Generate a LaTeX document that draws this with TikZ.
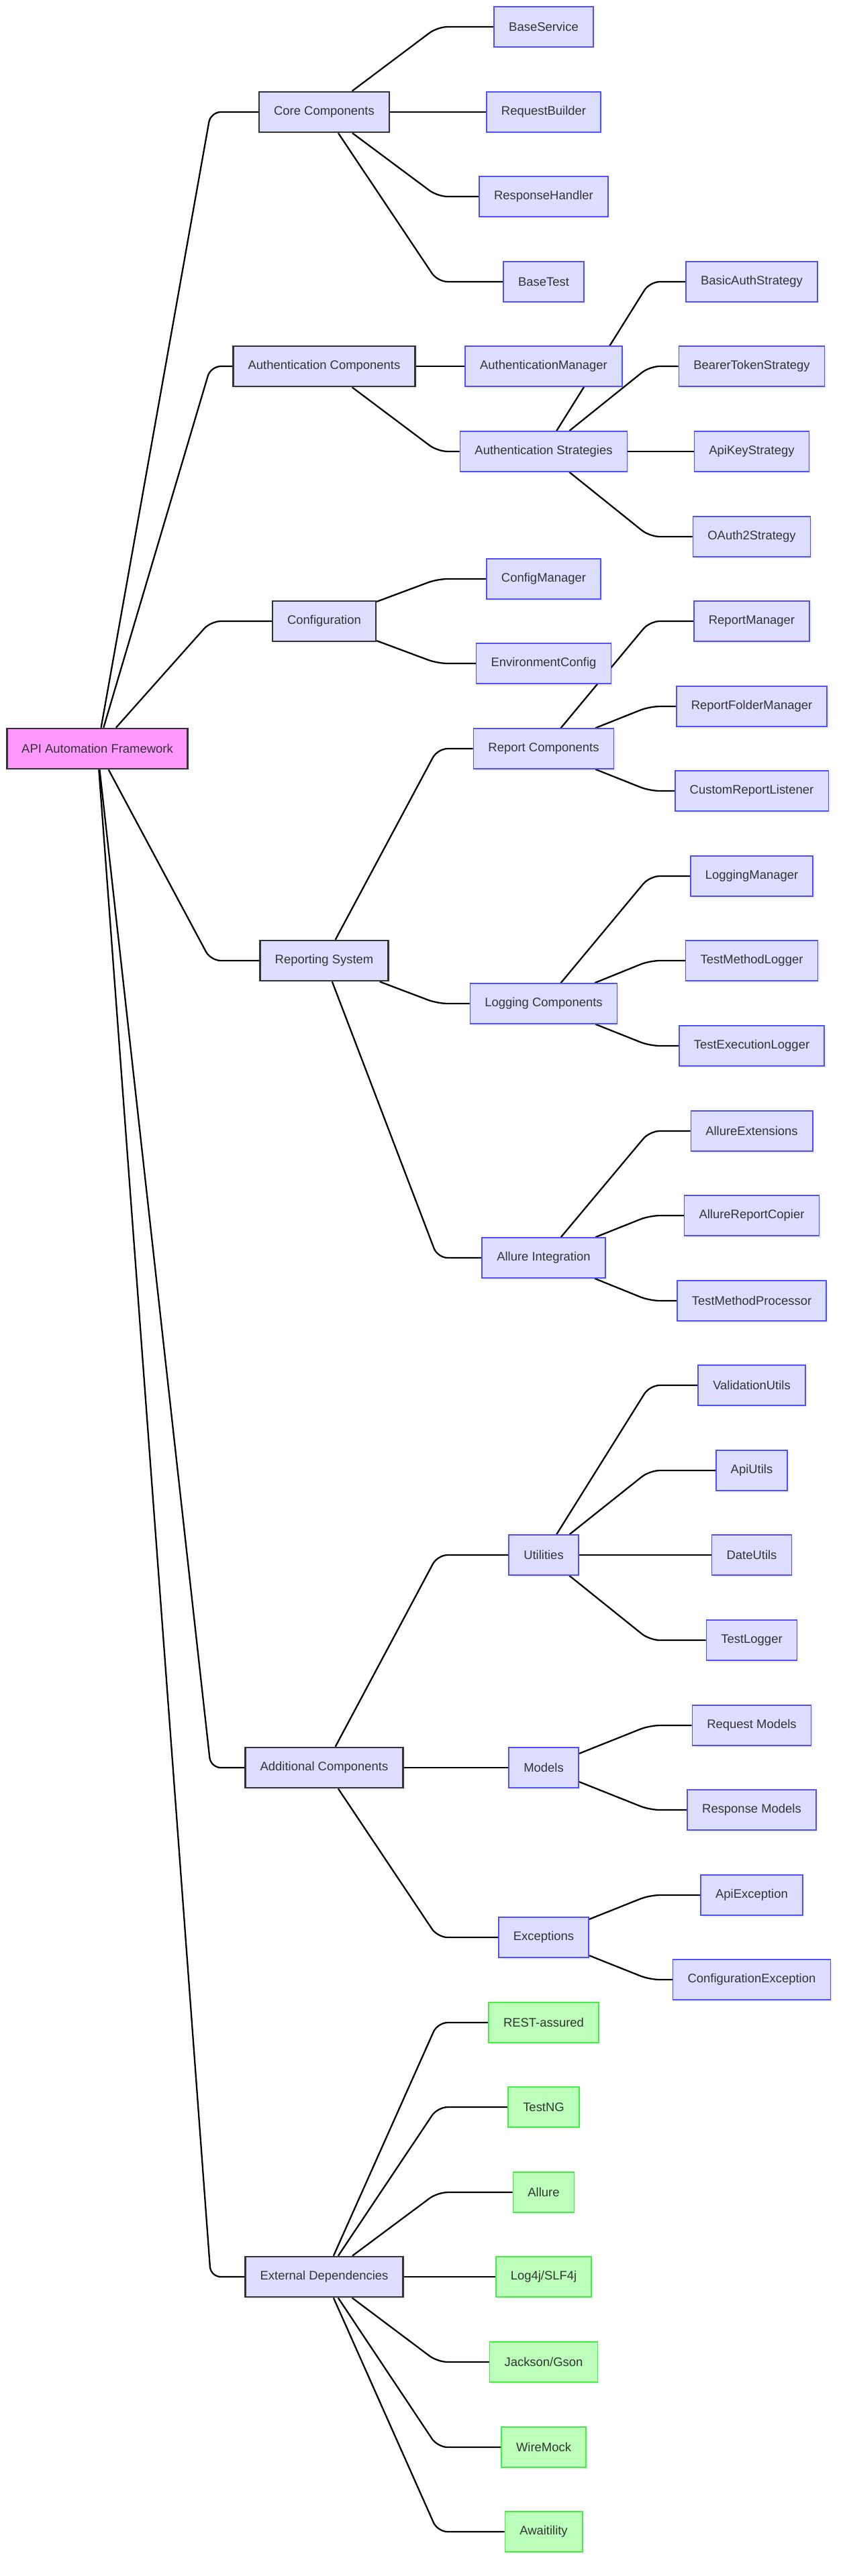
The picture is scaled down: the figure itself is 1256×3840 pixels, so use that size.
\documentclass[tikz,border=0pt]{standalone}
\usepackage{fontspec}
\setmainfont{Liberation Sans}
\usepackage{tikz}
\usetikzlibrary{backgrounds,shadows}

\definecolor{lavfill}{HTML}{DDDDFF}
\definecolor{lavline}{HTML}{5050FF}
\definecolor{grnfill}{HTML}{BBFFBB}
\definecolor{grnline}{HTML}{44EE44}
\definecolor{pinkfill}{HTML}{FF99FF}
\definecolor{darkline}{HTML}{333333}

\tikzset{
  box/.style={rectangle, minimum height=1.2cm, inner xsep=0.44cm, inner ysep=0pt,
    font=\fontsize{10.5pt}{12pt}\selectfont, text=darkline,
    drop shadow={shadow xshift=0.05cm, shadow yshift=-0.05cm, opacity=0.12}},
  leaf/.style={box, fill=lavfill, draw=lavline, line width=0.9pt},
  lib/.style={box, fill=grnfill, draw=grnline, line width=0.9pt},
  group/.style={box, fill=lavfill, draw=darkline, line width=1.5pt},
  rootbox/.style={box, fill=pinkfill, draw=darkline, line width=1.5pt},
  link/.style={black, line width=1.3pt, rounded corners=0.3cm}
}

\begin{document}
\begin{tikzpicture}[x=0.02cm,y=-0.02cm]
\useasboundingbox (0,0) rectangle (1256,3840);

% turning points between the columns
\coordinate (r1) at (314,0);
\coordinate (r2) at (652,0);
\coordinate (r3) at (968,0);

% root and main groups
\node[rootbox] (root) at (145,1116) {API Automation Framework};
\node[group] (core) at (483,167) {Core Components};
\node[group] (auth) at (483,546) {Authentication Components};
\node[group] (config) at (483,926) {Configuration};
\node[group] (report) at (483,1432) {Reporting System};
\node[group] (addl) at (483,2635) {Additional Components};
\node[group] (extdep) at (483,3394) {External Dependencies};

% second column
\node[leaf] (bsvc) at (810,40) {BaseService};
\node[leaf] (reqb) at (810,167) {RequestBuilder};
\node[leaf] (resph) at (810,293) {ResponseHandler};
\node[leaf] (btest) at (810,420) {BaseTest};
\node[leaf] (authmgr) at (810,546) {AuthenticationManager};
\node[leaf] (authstr) at (810,673) {Authentication Strategies};
\node[leaf] (cfgmgr) at (810,863) {ConfigManager};
\node[leaf] (envcfg) at (810,989) {EnvironmentConfig};
\node[leaf] (repcomp) at (810,1116) {Report Components};
\node[leaf] (logcomp) at (810,1496) {Logging Components};
\node[leaf] (allint) at (810,1875) {Allure Integration};
\node[leaf] (utils) at (810,2318) {Utilities};
\node[leaf] (models) at (810,2635) {Models};
\node[leaf] (excep) at (810,2888) {Exceptions};
\node[lib] (rest) at (810,3015) {REST-assured};
\node[lib] (testng) at (810,3141) {TestNG};
\node[lib] (allure) at (810,3268) {Allure};
\node[lib] (log4j) at (810,3394) {Log4j/SLF4j};
\node[lib] (jackson) at (810,3521) {Jackson/Gson};
\node[lib] (wiremock) at (810,3648) {WireMock};
\node[lib] (await) at (810,3774) {Awaitility};

% third column
\node[leaf] (basic) at (1120,420) {BasicAuthStrategy};
\node[leaf] (bearer) at (1120,546) {BearerTokenStrategy};
\node[leaf] (apikey) at (1120,673) {ApiKeyStrategy};
\node[leaf] (oauth) at (1120,800) {OAuth2Strategy};
\node[leaf] (repmgr) at (1120,926) {ReportManager};
\node[leaf] (repfold) at (1120,1053) {ReportFolderManager};
\node[leaf] (custlist) at (1120,1179) {CustomReportListener};
\node[leaf] (logmgr) at (1120,1306) {LoggingManager};
\node[leaf] (tmlog) at (1120,1432) {TestMethodLogger};
\node[leaf] (telog) at (1120,1559) {TestExecutionLogger};
\node[leaf] (allext) at (1120,1686) {AllureExtensions};
\node[leaf] (allcopy) at (1120,1812) {AllureReportCopier};
\node[leaf] (tmproc) at (1120,1939) {TestMethodProcessor};
\node[leaf] (valid) at (1120,2065) {ValidationUtils};
\node[leaf] (apiu) at (1120,2192) {ApiUtils};
\node[leaf] (dateu) at (1120,2318) {DateUtils};
\node[leaf] (tlog) at (1120,2445) {TestLogger};
\node[leaf] (reqm) at (1120,2572) {Request Models};
\node[leaf] (resm) at (1120,2698) {Response Models};
\node[leaf] (apiex) at (1120,2825) {ApiException};
\node[leaf] (cfgex) at (1120,2951) {ConfigurationException};

\begin{scope}[on background layer]
% root to groups
\draw[link] (root) -- (core -| r1) -- (core);
\draw[link] (root) -- (auth -| r1) -- (auth);
\draw[link] (root) -- (config -| r1) -- (config);
\draw[link] (root) -- (report -| r1) -- (report);
\draw[link] (root) -- (addl -| r1) -- (addl);
\draw[link] (root) -- (extdep -| r1) -- (extdep);

% groups to second column
\draw[link] (core) -- (bsvc -| r2) -- (bsvc);
\draw[link] (core) -- (reqb -| r2) -- (reqb);
\draw[link] (core) -- (resph -| r2) -- (resph);
\draw[link] (core) -- (btest -| r2) -- (btest);
\draw[link] (auth) -- (authmgr -| r2) -- (authmgr);
\draw[link] (auth) -- (authstr -| r2) -- (authstr);
\draw[link] (config) -- (cfgmgr -| r2) -- (cfgmgr);
\draw[link] (config) -- (envcfg -| r2) -- (envcfg);
\draw[link] (report) -- (repcomp -| r2) -- (repcomp);
\draw[link] (report) -- (logcomp -| r2) -- (logcomp);
\draw[link] (report) -- (allint -| r2) -- (allint);
\draw[link] (addl) -- (utils -| r2) -- (utils);
\draw[link] (addl) -- (models -| r2) -- (models);
\draw[link] (addl) -- (excep -| r2) -- (excep);
\draw[link] (extdep) -- (rest -| r2) -- (rest);
\draw[link] (extdep) -- (testng -| r2) -- (testng);
\draw[link] (extdep) -- (allure -| r2) -- (allure);
\draw[link] (extdep) -- (log4j -| r2) -- (log4j);
\draw[link] (extdep) -- (jackson -| r2) -- (jackson);
\draw[link] (extdep) -- (wiremock -| r2) -- (wiremock);
\draw[link] (extdep) -- (await -| r2) -- (await);

% second to third column
\draw[link] (authstr) -- (basic -| r3) -- (basic);
\draw[link] (authstr) -- (bearer -| r3) -- (bearer);
\draw[link] (authstr) -- (apikey -| r3) -- (apikey);
\draw[link] (authstr) -- (oauth -| r3) -- (oauth);
\draw[link] (repcomp) -- (repmgr -| r3) -- (repmgr);
\draw[link] (repcomp) -- (repfold -| r3) -- (repfold);
\draw[link] (repcomp) -- (custlist -| r3) -- (custlist);
\draw[link] (logcomp) -- (logmgr -| r3) -- (logmgr);
\draw[link] (logcomp) -- (tmlog -| r3) -- (tmlog);
\draw[link] (logcomp) -- (telog -| r3) -- (telog);
\draw[link] (allint) -- (allext -| r3) -- (allext);
\draw[link] (allint) -- (allcopy -| r3) -- (allcopy);
\draw[link] (allint) -- (tmproc -| r3) -- (tmproc);
\draw[link] (utils) -- (valid -| r3) -- (valid);
\draw[link] (utils) -- (apiu -| r3) -- (apiu);
\draw[link] (utils) -- (dateu -| r3) -- (dateu);
\draw[link] (utils) -- (tlog -| r3) -- (tlog);
\draw[link] (models) -- (reqm -| r3) -- (reqm);
\draw[link] (models) -- (resm -| r3) -- (resm);
\draw[link] (excep) -- (apiex -| r3) -- (apiex);
\draw[link] (excep) -- (cfgex -| r3) -- (cfgex);
\end{scope}
\end{tikzpicture}
\end{document}
